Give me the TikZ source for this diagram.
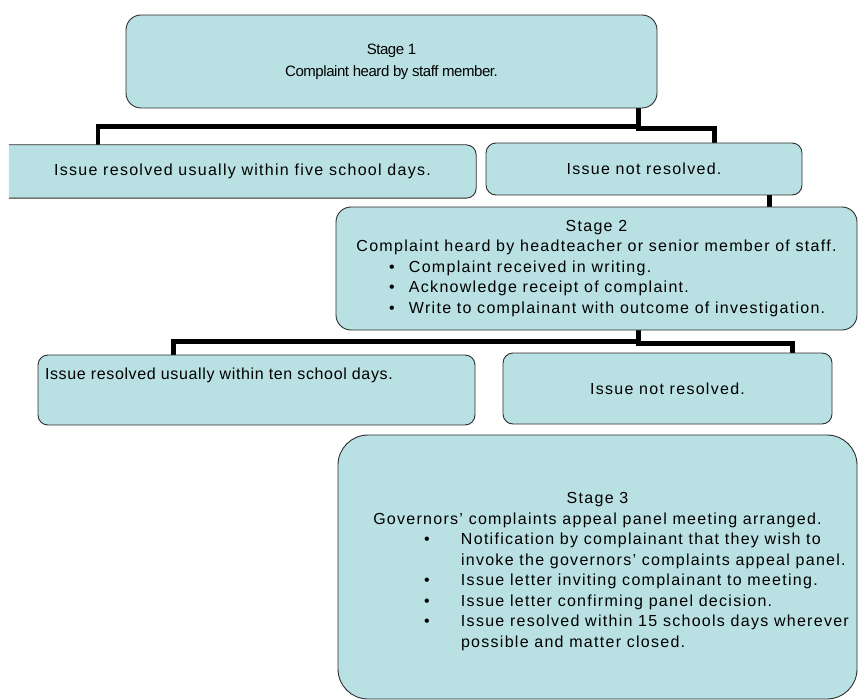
\documentclass[tikz,border=0pt]{standalone}
\usepackage{fontspec}
\setmainfont{Liberation Sans}[LetterSpace=8]
\newfontfamily\plainfont{Liberation Sans}[LetterSpace=-3]
\newfontfamily\narrowfont{Liberation Sans}[LetterSpace=4]
\usetikzlibrary{backgrounds}
\definecolor{boxfill}{RGB}{185,224,227}
\definecolor{boxline}{RGB}{45,45,45}
\newcommand{\stagebullet}[3]{\par\noindent\hspace*{#1}\makebox[#2][l]{\textbullet}#3}
\newcommand{\stagecont}[2]{\par\noindent\hspace*{#1}#2}
\tikzset{
	box/.style={fill=boxfill, draw=boxline, line width=0.9pt, rounded corners=10pt, inner sep=0pt,
		font={\fontsize{16}{20.5}\selectfont}, align=center},
	link/.style={line width=4.2pt}
}

\begin{document}
\begin{tikzpicture}[x=1pt, y=-1pt]
		%%%%% START %%%%%
		\useasboundingbox (0,0) rectangle (858,700);
		
		\node[box, rounded corners=15pt, minimum width=531pt, minimum height=93pt,
			font={\plainfont\fontsize{15}{22}\selectfont}] (stageone) at (391.5,61.5)
			{Stage 1\\Complaint heard by staff member.};
		
		\node[minimum width=467pt, minimum height=53pt, inner sep=0pt,
			font={\fontsize{16}{20.5}\selectfont}] (resA) at (242.5,171.5)
			{Issue resolved usually within five school days.};
		\node[box, minimum width=316pt, minimum height=52pt] (notA) at (644,169) {Issue not resolved.};
		
		\node[box, rounded corners=15pt, minimum width=521pt, minimum height=123pt] (stagetwo) at (596.5,268.5)
			{\parbox{521pt}{\centering Stage 2\\Complaint heard by headteacher or senior member of staff.\par\raggedright
				\stagebullet{53pt}{20pt}{Complaint received in writing.}
				\stagebullet{53pt}{20pt}{Acknowledge receipt of complaint.}
				\stagebullet{53pt}{20pt}{Write to complainant with outcome of investigation.}}};
		
		\node[box, minimum width=437pt, minimum height=70pt] (resB) at (256.5,390)
			{\parbox[c][70pt][t]{437pt}{\vspace*{13pt}\noindent\hspace*{7pt}\narrowfont Issue resolved usually within ten school days.}};
		\node[box, minimum width=329pt, minimum height=71pt] (notB) at (667.5,388.5) {Issue not resolved.};
		
		\node[box, rounded corners=30pt, minimum width=519pt, minimum height=264pt] (stagethree) at (597.5,567)
			{\parbox{519pt}{\vspace*{9pt}\centering Stage 3\\Governors’ complaints appeal panel meeting arranged.\par\raggedright
				\stagebullet{86pt}{37pt}{Notification by complainant that they wish to}
				\stagecont{123pt}{invoke the governors’ complaints appeal panel.}
				\stagebullet{86pt}{37pt}{Issue letter inviting complainant to meeting.}
				\stagebullet{86pt}{37pt}{Issue letter confirming panel decision.}
				\stagebullet{86pt}{37pt}{Issue resolved within 15 schools days wherever}
				\stagecont{123pt}{possible and matter closed.}}};
		
		\begin{scope}[on background layer]
			\draw[link] ([xshift=-19pt]stageone.south east) -- ++(0,18) -| ([xshift=89pt]resA.north west);
			\draw[link] ([xshift=-19pt]stageone.south east) -- ++(0,20) -| ([xshift=-88pt]notA.north east);
			\draw[link] ([xshift=-33pt]notA.south east) -- ([xshift=-33pt]notA.south east |- stagetwo.north);
			\draw[link] ([xshift=-219pt]stagetwo.south east) -- ++(0,11) -| ([xshift=136pt]resB.north west);
			\draw[link] ([xshift=-219pt]stagetwo.south east) -- ++(0,13) -| ([xshift=-40pt]notB.north east);
			% open on the left side
			\path[fill=boxfill, draw=boxline, line width=0.9pt, rounded corners=10pt]
				(resA.north west) -- (resA.north east) -- (resA.south east) -- (resA.south west);
		\end{scope}
		
		%%%%% END %%%%%
\end{tikzpicture}
\end{document}
